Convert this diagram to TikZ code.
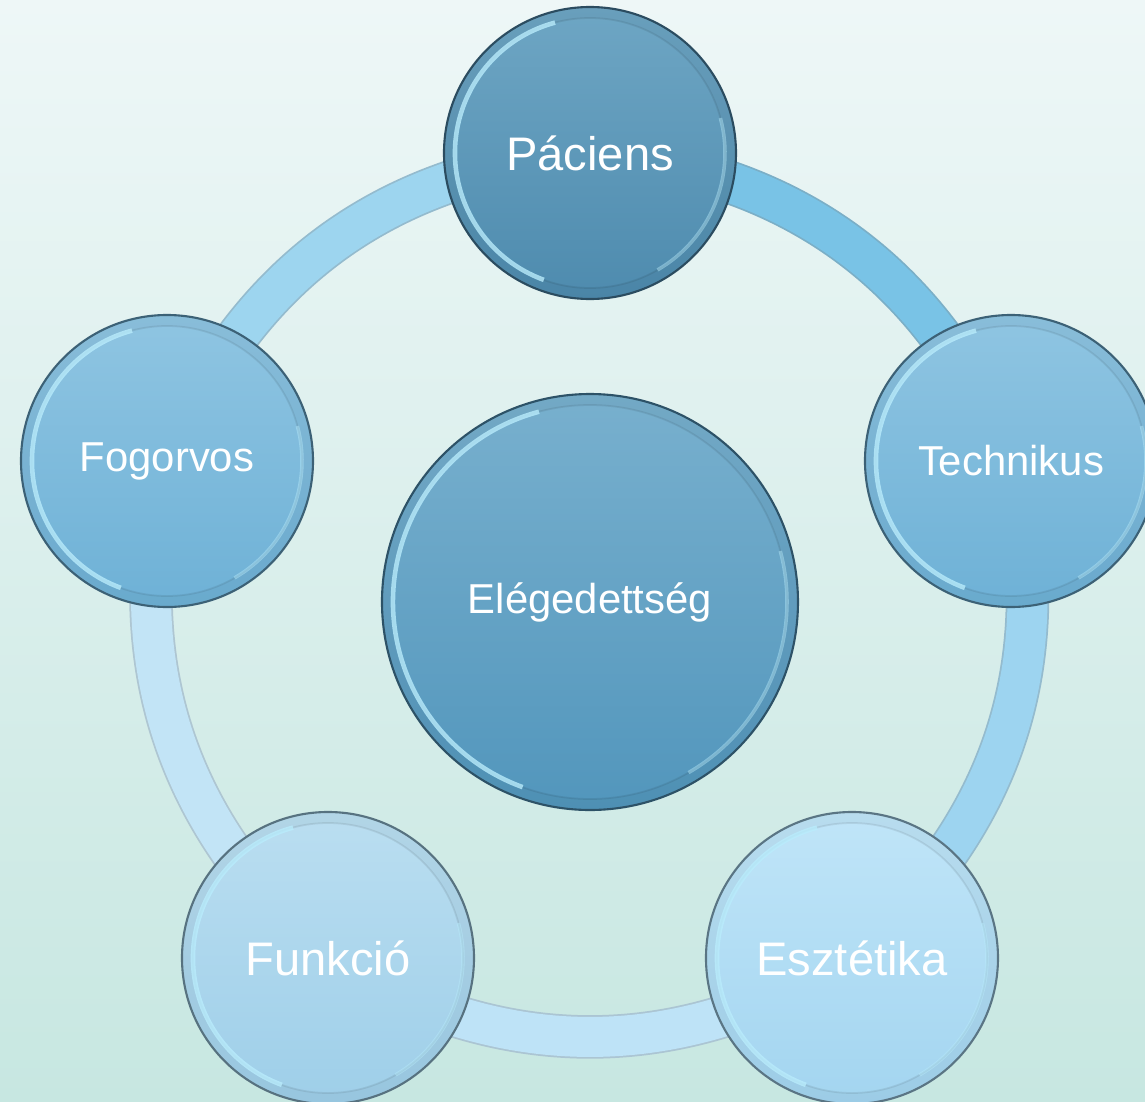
\documentclass[tikz,border=0pt]{standalone}
\usepackage{fontspec}
\setmainfont{Liberation Sans}
\usetikzlibrary{shapes.geometric}
\usetikzlibrary{arrows,positioning}
\definecolor{fondh}{RGB}{238,247,247}
\definecolor{fondb}{RGB}{199,231,225}
\definecolor{reflet}{RGB}{185,236,252}
\definecolor{seg1}{RGB}{121,195,230}
\definecolor{seg2}{RGB}{157,212,240}
\definecolor{seg3}{RGB}{190,227,247}
\definecolor{seg4}{RGB}{194,228,246}
\definecolor{seg5}{RGB}{157,213,239}
\definecolor{pach}{RGB}{110,166,196}
\definecolor{pacb}{RGB}{78,139,174}
\definecolor{techh}{RGB}{143,197,226}
\definecolor{techb}{RGB}{110,177,214}
\definecolor{esh}{RGB}{192,229,248}
\definecolor{esb}{RGB}{163,213,240}
\definecolor{elh}{RGB}{120,176,206}
\definecolor{elb}{RGB}{82,150,188}
\newcommand\bevel[1]{%
  \fill[black,opacity=.04,even odd rule] (path picture bounding box.center) circle (#1) circle (#1-.11);
  \draw[black,opacity=.08,line width=.5pt] (path picture bounding box.center) circle (#1-.11);
  \draw[reflet,opacity=.8,line width=1.3pt] ([shift={(105:#1-.11)}]path picture bounding box.center) arc[start angle=105,end angle=250,radius=#1-.11];
  \draw[reflet,opacity=.45,line width=1pt] ([shift={(-60:#1-.11)}]path picture bounding box.center) arc[start angle=-60,end angle=15,radius=#1-.11];}
\tikzset{
  bulle/.style n args={3}{circle,inner sep=0pt,minimum size=2*#3 cm,draw=#2!55!black,line width=.6pt,
    top color=#1,bottom color=#2,text=white,path picture={\bevel{#3}}},
  anneau/.style={draw=#1!70!gray,double=#1,double distance=.4cm,line width=.5pt},
}
\pgfdeclarelayer{fond}
\pgfdeclarelayer{ring}
\pgfsetlayers{fond,ring,main}

\begin{document}
\begin{tikzpicture}%
        \useasboundingbox (-5.90,-5.04) rectangle (5.55,5.98);%%
        \begin{pgfonlayer}{fond}
        \shade[top color=fondh,bottom color=fondb] (-5.90,-5.04) rectangle (5.55,5.98);%%
        \end{pgfonlayer}
        \begin{scope}
        \tikzstyle{every node}=[font=\fontsize{13.4}{16}\selectfont] %%
        \node[bulle={pach}{pacb}{1.46}] (pac) at (0,4.45)  {Páciens}; %%
        \node[bulle={techh}{techb}{1.46},font=\fontsize{11.9}{14}\selectfont] (tech) at (4.21,1.37)  {Technikus}; %%
        \node[bulle={esh}{esb}{1.46}] (eszt) at (2.62,-3.60)  {Esztétika}; %%
        \node[bulle={esh!97!black}{esb!97!black}{1.46}] (funk) at (-2.62,-3.60)  {Funkció}; %%
        \node[bulle={techh}{techb}{1.46},font=\fontsize{11.9}{14}\selectfont] (fog) at (-4.23,1.37)  {Fogorvos}; %%
        \node[bulle={elh}{elb}{2.08},font=\fontsize{11.9}{14}\selectfont] (eleg) at (0,-0.04)  {Elégedettség}; %%
        \end{scope}
        \begin{pgfonlayer}{ring}
        \draw[anneau=seg1] (pac.center) to[bend left=31] (tech.center); %%
        \draw[anneau=seg2] (tech.center) to[bend left=31] (eszt.center); %%
        \draw[anneau=seg3] (eszt.center) to[bend left=31] (funk.center); %%
        \draw[anneau=seg4] (funk.center) to[bend left=31] (fog.center); %%
        \draw[anneau=seg5] (fog.center) to[bend left=31] (pac.center); %%
        \end{pgfonlayer}
\end{tikzpicture}
\end{document}
